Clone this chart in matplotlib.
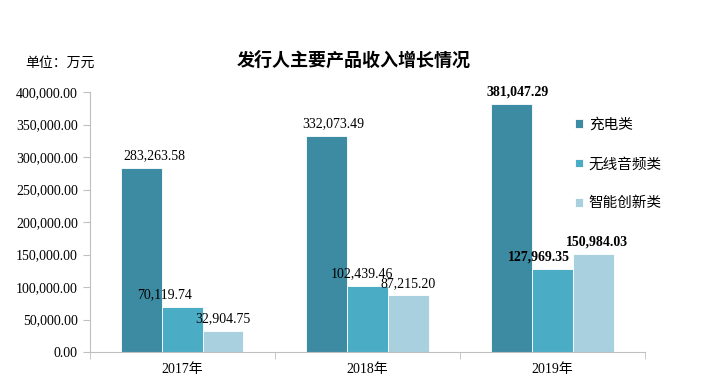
import matplotlib.pyplot as plt
import numpy as np

plt.rcParams['font.family'] = ['Liberation Serif', 'Noto Sans CJK SC']

years = ['2017年', '2018年', '2019年']
series = ['充电类', '无线音频类', '智能创新类']
charge = [283263.58, 332073.49, 381047.29]
audio = [70119.74, 102439.46, 127969.35]
smart = [32904.75, 87215.20, 150984.03]
colors = ['#3d8ba2', '#4bacc6', '#a9d0de']

fig = plt.figure(figsize=(7.24, 3.9), dpi=100)
ax = fig.add_axes([0.124, 0.097, 0.767, 0.667])

x = np.arange(len(years))
w = 0.22
# label nudges (points) so labels sit roughly like the original
dx = [[9, -13, 0], [5, -4, 0], [4, -10, 3]]
for k, vals in enumerate([charge, audio, smart]):
    pos = x + (k - 1) * w
    ax.bar(pos, vals, w, color=colors[k], label=series[k], edgecolor='white', linewidth=0.6)
    for j, (p, v) in enumerate(zip(pos, vals)):
        ax.annotate(f'{v:,.2f}', (p, v), xytext=(dx[j][k], 4), textcoords='offset points',
                    ha='center', va='bottom', fontsize=10,
                    fontweight='bold' if j == 2 else 'normal')

ax.set_xlim(-0.5, 2.5)
ax.set_ylim(0, 400000)
ax.set_yticks(np.arange(0, 400001, 50000))
ax.set_yticklabels([f'{t:,.2f}' for t in np.arange(0, 400001, 50000)], fontsize=10)
ax.set_xticks(x)
ax.set_xticklabels(years, fontsize=10)
ax.tick_params(axis='x', length=0, pad=8)
ax.set_xticks([-0.5, 0.5, 1.5, 2.5], minor=True)
ax.tick_params(axis='x', which='minor', length=5, color='#bfbfbf')
ax.tick_params(axis='y', length=5, color='#bfbfbf')
for s in ['top', 'right']:
    ax.spines[s].set_visible(False)
ax.spines['left'].set_color('#bfbfbf')
ax.spines['bottom'].set_color('#bfbfbf')

ax.legend(loc='upper left', bbox_to_anchor=(0.85, 0.95), frameon=False, fontsize=10.5,
          handlelength=0.55, handleheight=0.55, labelspacing=1.75, handletextpad=0.4)

fig.text(0.488, 0.845, '发行人主要产品收入增长情况', ha='center', va='center',
         fontsize=13, fontweight='bold')
fig.text(0.035, 0.838, '单位：万元', ha='left', va='center', fontsize=10)

fig.savefig('out.png', dpi=100)
